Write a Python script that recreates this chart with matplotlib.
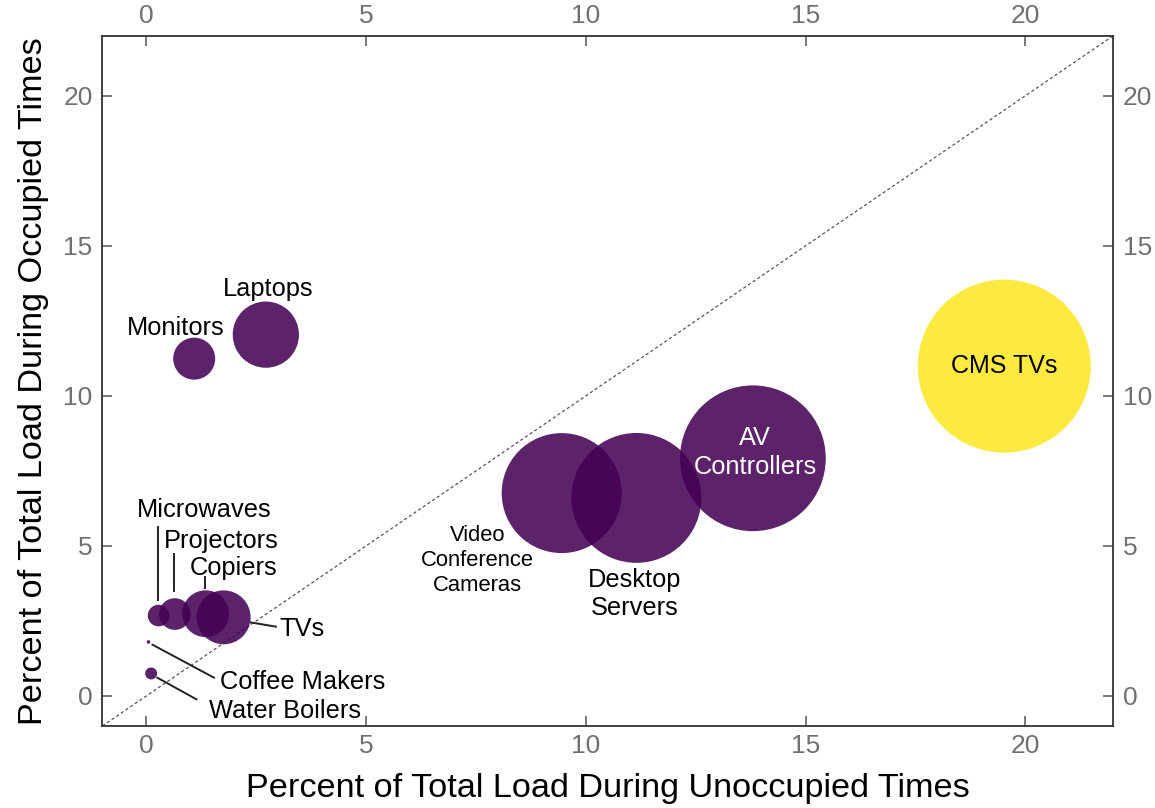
import matplotlib
matplotlib.use('Agg')
import matplotlib.pyplot as plt
import numpy as np

plt.rcParams['font.family'] = ['Liberation Sans', 'DejaVu Sans']

# percent of total plug load by device type
devices = ['CMS TVs', 'AV Controllers', 'Video Conference Cameras', 'Desktop Servers',
           'Laptops', 'Monitors', 'TVs', 'Copiers', 'Projectors', 'Microwaves',
           'Water Boilers', 'Coffee Makers']
unoccupied = [19.52, 13.80, 9.45, 11.15, 2.72, 1.09, 1.76, 1.35, 0.65, 0.28, 0.11, 0.05]
occupied = [10.99, 7.92, 6.76, 6.60, 12.04, 11.24, 2.62, 2.74, 2.73, 2.68, 0.75, 1.80]
total_share = [31.4, 22.3, 15.1, 17.7, 4.6, 1.85, 3.05, 2.3, 1.05, 0.49, 0.15, 0.014]
highlight = [True] + [False] * 11

purple = '#440154'
yellow = '#FDE725'

fig = plt.figure(figsize=(11.55, 8.08), dpi=100)
ax = fig.add_axes([0.0886, 0.1015, 0.8753, 0.8543])

lim = (-1, 22)
ax.plot(lim, lim, color='#555555', lw=0.9, ls=(0, (2.5, 2)), zorder=1)

sizes = np.array(total_share) * 494.0
colors = [yellow if h else purple for h in highlight]
ax.scatter(unoccupied, occupied, s=sizes, c=colors, alpha=0.87, linewidths=0, zorder=2)

ax.set_xlim(lim)
ax.set_ylim(lim)
ax.set_xticks([0, 5, 10, 15, 20])
ax.set_yticks([0, 5, 10, 15, 20])

for side in ax.spines.values():
    side.set_color('#333333')
    side.set_linewidth(1.3)
ax.tick_params(direction='in', length=7, width=1.1, color='#555555',
               labelsize=19, labelcolor='#707070',
               top=True, right=True, labeltop=True, labelright=True)
ax.xaxis.set_tick_params(pad=5.5)
ax.yaxis.set_tick_params(pad=7)

ax.set_xlabel('Percent of Total Load During Unoccupied Times', fontsize=24.7, labelpad=11)
ax.set_ylabel('Percent of Total Load During Occupied Times', fontsize=24.7, labelpad=10)

big = 18.3
# labels placed inside or beside the bubbles
ax.text(19.52, 10.99, 'CMS TVs', fontsize=18, ha='center', va='center', zorder=3)
ax.text(13.85, 8.11, 'AV\nControllers', fontsize=big, color='white', ha='center',
        va='center', linespacing=1.22, zorder=3)
ax.text(7.54, 4.52, 'Video\nConference\nCameras', fontsize=15.8, ha='center',
        va='center', linespacing=1.25, zorder=3)
ax.text(11.11, 3.41, 'Desktop\nServers', fontsize=big, ha='center', va='center',
        linespacing=1.2, zorder=3)
ax.text(0.68, 12.26, 'Monitors', fontsize=big, ha='center', va='center', zorder=3)
ax.text(2.77, 13.55, 'Laptops', fontsize=big, ha='center', va='center', zorder=3)

# small devices crowd together, so they get leader lines
leaders = [
    ('Microwaves', (1.32, 6.19), 'center', (0.27, 5.63), (0.27, 3.20)),
    ('Projectors', (1.71, 5.18), 'center', (0.63, 4.72), (0.63, 3.51)),
    ('Copiers', (1.99, 4.27), 'center', (1.34, 3.96), (1.34, 3.60)),
    ('TVs', (3.02, 2.23), 'left', (2.95, 2.31), (2.38, 2.45)),
    ('Coffee Makers', (1.67, 0.45), 'left', (1.54, 0.61), (0.14, 1.71)),
    ('Water Boilers', (1.43, -0.50), 'left', (1.14, -0.11), (0.25, 0.61)),
]
for name, pos, ha, p0, p1 in leaders:
    ax.text(pos[0], pos[1], name, fontsize=big, ha=ha, va='center', zorder=3)
    ax.plot([p0[0], p1[0]], [p0[1], p1[1]], color='#222222', lw=1.4, zorder=3)

fig.savefig('out.png', dpi=100)
